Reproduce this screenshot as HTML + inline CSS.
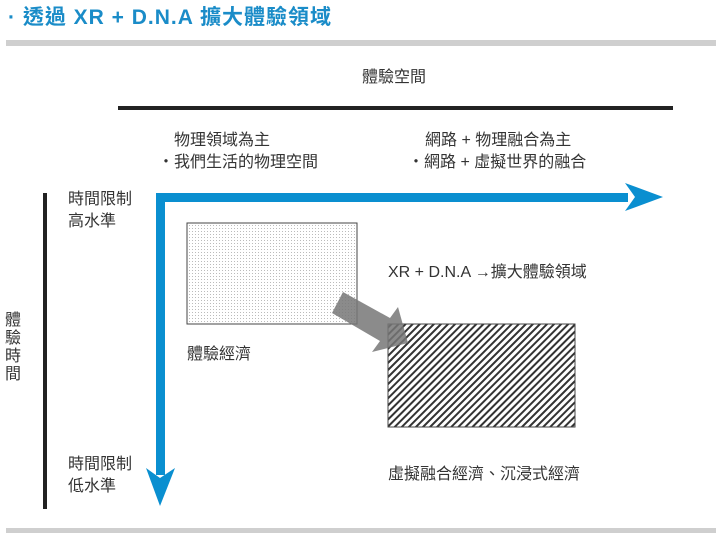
<!DOCTYPE html>
<html><head><meta charset="utf-8"><style>
body{margin:0;width:720px;height:541px;background:#fff;position:relative;overflow:hidden;font-family:"Liberation Sans","Noto Sans CJK TC",sans-serif;color:#333}
.t{position:absolute;font-size:16px;line-height:22px;white-space:nowrap}
</style></head><body>
<div class="t" style="left:8px;top:5px;font-size:21px;font-weight:bold;color:#1a8cc8;line-height:26px;letter-spacing:1px">· 透過 XR + D.N.A 擴大體驗領域</div>
<div style="position:absolute;left:6px;top:40px;width:710px;height:6px;background:#cfcfcf"></div>
<div style="position:absolute;left:6px;top:528px;width:710px;height:5px;background:#cfcfcf"></div>
<svg width="720" height="541" style="position:absolute;left:0;top:0">
<defs>
<pattern id="dots" width="3" height="3" patternUnits="userSpaceOnUse"><rect width="3" height="3" fill="#fff"/><rect width="1" height="1" fill="#bbb"/></pattern>
<pattern id="hatch" width="5" height="5" patternUnits="userSpaceOnUse" patternTransform="rotate(45)"><rect width="5" height="5" fill="#fff"/><rect width="2" height="5" fill="#333"/></pattern>
</defs>
<rect x="118" y="106" width="555" height="4" fill="#222"/>
<rect x="43" y="193" width="4" height="316" fill="#222"/>
<rect x="187" y="223" width="170" height="101" fill="url(#dots)" stroke="#444" stroke-width="1"/>
<rect x="388" y="324" width="187" height="103" fill="url(#hatch)" stroke="#444" stroke-width="1"/>
<polygon points="343,292 390,318 398,307 408,343 372,352 380,341 332,313" fill="#777" fill-opacity="0.85"/>
<rect x="156" y="193" width="472" height="9" fill="#0a8fd0"/>
<polygon points="625,183 663,197 625,211 635,197" fill="#0a8fd0"/>
<rect x="156" y="193" width="9" height="282" fill="#0a8fd0"/>
<polygon points="146,468 160,478 175,468 160,506" fill="#0a8fd0"/>
</svg>
<div class="t" style="left:362px;top:67px">體驗空間</div>
<div class="t" style="left:174px;top:130px">物理領域為主</div>
<div class="t" style="left:158px;top:152px">・我們生活的物理空間</div>
<div class="t" style="left:425px;top:130px">網路 + 物理融合為主</div>
<div class="t" style="left:408px;top:152px">・網路 + 虛擬世界的融合</div>
<div class="t" style="left:68px;top:189px">時間限制<br>高水準</div>
<div class="t" style="left:68px;top:454px">時間限制<br>低水準</div>
<div class="t" style="left:5px;top:312px;width:16px;white-space:normal;line-height:18px">體驗時間</div>
<div class="t" style="left:388px;top:262px">XR + D.N.A →擴大體驗領域</div>
<div class="t" style="left:187px;top:344px">體驗經濟</div>
<div class="t" style="left:388px;top:464px">虛擬融合經濟、沉浸式經濟</div>
</body></html>
